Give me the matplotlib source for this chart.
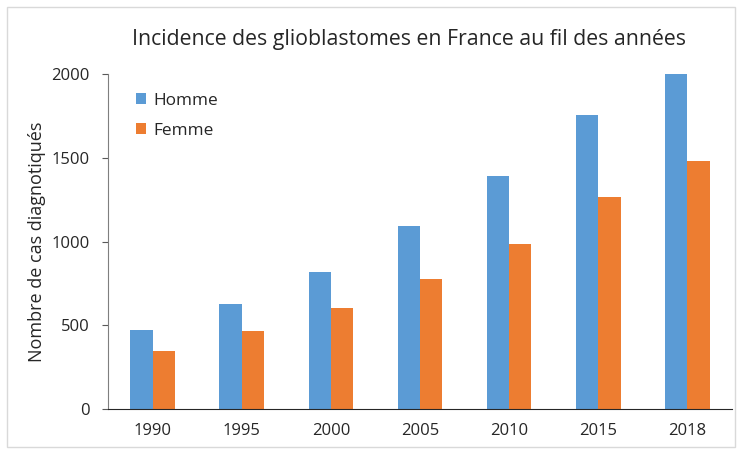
import numpy as np
import matplotlib
matplotlib.use("Agg")
from matplotlib import pyplot as plt
from matplotlib.patches import Rectangle

# Data
years = ["1990", "1995", "2000", "2005", "2010", "2015", "2018"]
homme = [470, 627, 818, 1095, 1391, 1755, 2000]
femme = [348, 466, 603, 776, 985, 1266, 1480]

plt.rcParams["font.family"] = ["Open Sans", "DejaVu Sans"]

fig = plt.figure(figsize=(7.39, 4.5), dpi=100)
# light grey frame around the whole chart area
fig.patches.append(Rectangle((7 / 739, 3 / 450), 728 / 739, 440 / 450,
                             transform=fig.transFigure, fill=False,
                             edgecolor="#d9d9d9", linewidth=1.0))

ax = fig.add_axes([0.1461, 0.0911, 0.8444, 0.7444])

x = np.arange(len(years))
w = 0.25
ax.bar(x - w / 2, homme, w, color="#5b9bd5", label="Homme")
ax.bar(x + w / 2, femme, w, color="#ed7d31", label="Femme")

ax.set_xlim(-0.5, len(years) - 0.5)
ax.set_ylim(0, 2000)
ax.set_yticks([0, 500, 1000, 1500, 2000])
ax.set_xticks(x)
ax.set_xticklabels(years)
ax.tick_params(axis="x", length=0, pad=10, labelsize=12, colors="#262626")
ax.tick_params(axis="y", length=4, width=0.8, color="#595959", pad=9,
               labelsize=12, labelcolor="#262626")

for side in ["top", "right"]:
    ax.spines[side].set_visible(False)
ax.spines["left"].set_color("#7f7f7f")
ax.spines["bottom"].set_color("#262626")

ax.set_ylabel("Nombre de cas diagnotiqués", fontsize=13, color="#262626", labelpad=4)
fig.text(0.553, 0.912, "Incidence des glioblastomes en France au fil des années",
         ha="center", va="center", fontsize=15.3, color="#262626")

ax.legend(loc="upper left", bbox_to_anchor=(0.02, 0.99), frameon=False,
          fontsize=12.4, handlelength=0.6, handleheight=0.6, handletextpad=0.4,
          labelspacing=0.8, labelcolor="#262626")

fig.savefig("out.png", dpi=100)
